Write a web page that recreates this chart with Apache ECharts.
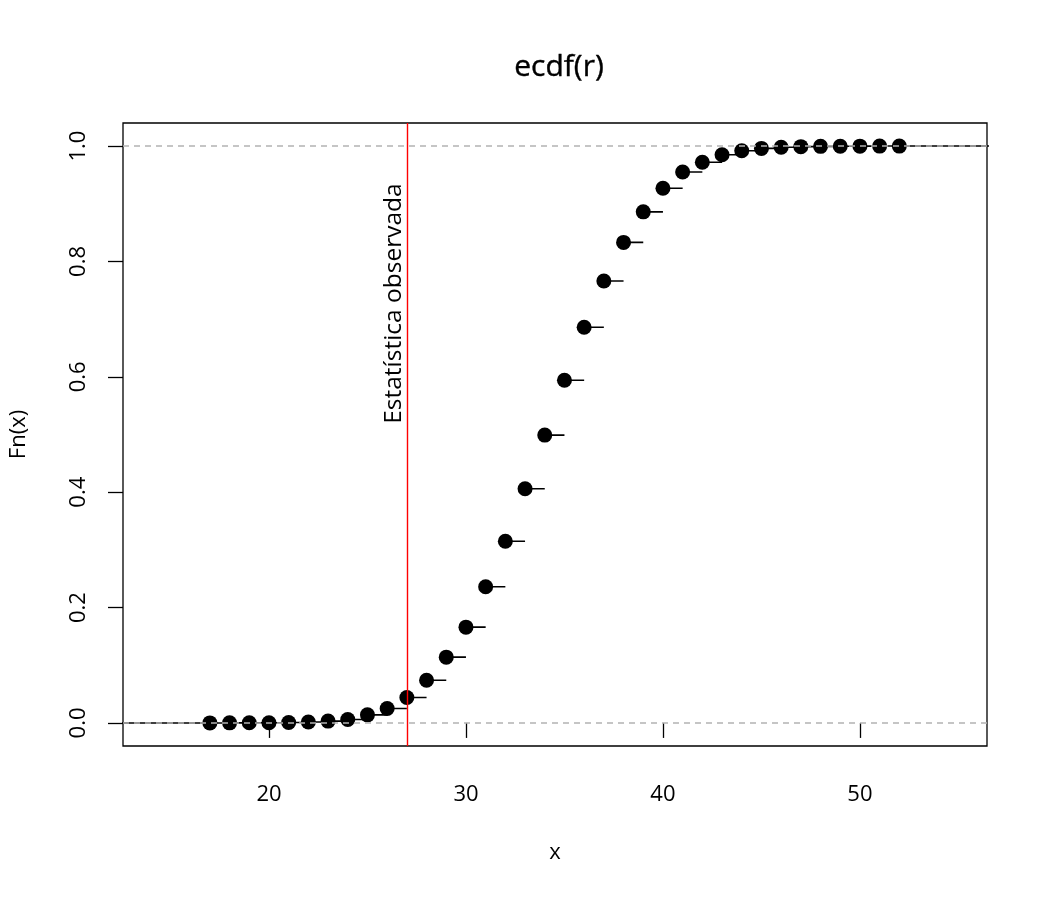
<!DOCTYPE html>
<html><head><meta charset="utf-8">
<script src="https://cdn.jsdelivr.net/npm/echarts@6/dist/echarts.min.js"></script>
<style>html,body{margin:0;padding:0;background:#fff}#c{width:1050px;height:900px}</style>
</head><body><div id="c"></div>
<script>
const xValues = [17,18,19,20,21,22,23,24,25,26,27,28,29,30,31,32,33,34,35,36,37,38,39,40,41,42,43,44,45,46,47,48,49,50,51,52];
const fnValues = [0.0000,0.0001,0.0002,0.0004,0.0008,0.0016,0.0032,0.006,0.014,0.025,0.044,0.074,0.114,0.166,0.236,0.315,0.406,0.499,0.594,0.686,0.766,0.833,0.886,0.927,0.955,0.972,0.985,0.992,0.996,0.998,0.999,0.9995,0.9998,0.9999,1.0,1.0];
const xTicks = [20,30,40,50];
const yTicks = [0,0.2,0.4,0.6,0.8,1.0];
const observedStat = 27;
const labelText = 'Estatística observada';
const titleText = 'ecdf(r)';

const X_MIN = 12.59, X_MAX = 56.45, Y_MIN = -0.04, Y_MAX = 1.04;
const FONT = 'Open Sans';

// horizontal step segments
const stepData = [];
stepData.push([X_MIN - 5, 0], [xValues[0], 0], ['-', '-']);
for (let i = 0; i < xValues.length; i++) {
  const xe = i < xValues.length - 1 ? xValues[i + 1] : X_MAX + 5;
  stepData.push([xValues[i], fnValues[i]], [xe, fnValues[i]], ['-', '-']);
}
const points = xValues.map((x, i) => [x, fnValues[i]]);

const chart = echarts.init(document.getElementById('c'), null, {renderer: 'canvas'});
chart.setOption({
  animation: false,
  backgroundColor: '#fff',
  textStyle: {fontFamily: FONT},
  title: {
    text: titleText, left: 554, top: 47, textAlign: 'center',
    textStyle: {fontFamily: FONT, fontSize: 30, fontWeight: 'normal', color: '#000', textBorderColor: '#000', textBorderWidth: 0.4}
  },
  grid: {left: 123, right: 63, top: 123, bottom: 154, show: true, borderColor: '#000', borderWidth: 1.3, backgroundColor: 'transparent'},
  xAxis: {
    type: 'value', min: X_MIN, max: X_MAX,
    name: 'x', nameLocation: 'middle', nameGap: 96,
    nameTextStyle: {fontFamily: FONT, fontSize: 22, color: '#000'},
    axisLine: {show: false},
    splitLine: {show: false},
    axisTick: {show: true, inside: false, length: 15, customValues: xTicks, lineStyle: {color: '#000', width: 1.3}},
    axisLabel: {customValues: xTicks, margin: 38, fontFamily: FONT, fontSize: 22, color: '#000', formatter: v => String(v)}
  },
  yAxis: {
    type: 'value', min: Y_MIN, max: Y_MAX,
    name: 'Fn(x)', nameLocation: 'middle', nameGap: 93, nameRotate: 90,
    nameTextStyle: {fontFamily: FONT, fontSize: 22, color: '#000'},
    axisLine: {show: false},
    splitLine: {show: false},
    axisTick: {show: true, inside: false, length: 15, customValues: yTicks, lineStyle: {color: '#000', width: 1.3}},
    axisLabel: {customValues: yTicks, rotate: 90, margin: 33, fontFamily: FONT, fontSize: 22, color: '#000', formatter: v => v.toFixed(1)}
  },
  series: [
    {
      type: 'line', data: stepData, showSymbol: false, symbol: 'none', connectNulls: false,
      lineStyle: {color: '#000', width: 1.6}, z: 2, clip: true, silent: true
    },
    {
      type: 'line', data: [], z: 3, silent: true,
      markLine: {
        silent: true, symbol: 'none', label: {show: false},
        lineStyle: {color: '#b3b3b3', type: [6, 5], width: 1.5},
        data: [{yAxis: 0}, {yAxis: 1}]
      }
    },
    {
      type: 'scatter', data: points, symbol: 'circle', symbolSize: 15,
      itemStyle: {color: '#000', opacity: 1}, z: 4, silent: true
    },
    {
      type: 'line', data: [], z: 5, silent: true,
      markLine: {
        silent: true, symbol: 'none', label: {show: false},
        lineStyle: {color: '#ff0000', type: 'solid', width: 1.4, opacity: 1},
        data: [{xAxis: observedStat}]
      }
    },
    {
      type: 'scatter', data: [[observedStat, 0.522]], symbolSize: 0, z: 6, silent: true,
      itemStyle: {opacity: 1},
      label: {
        show: true, formatter: labelText, rotate: 90, position: [0, 0],
        align: 'left', verticalAlign: 'bottom', offset: [-2, 0],
        fontFamily: FONT, fontSize: 24.5, color: '#000'
      }
    }
  ]
});
</script></body></html>
